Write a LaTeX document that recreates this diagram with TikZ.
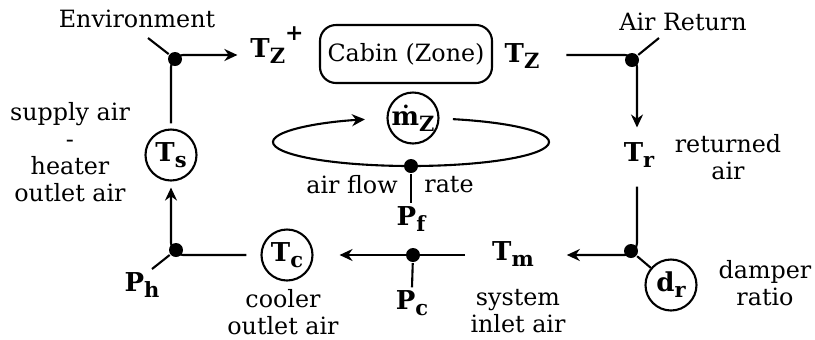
\documentclass[tikz,border=0pt]{standalone}
\usepackage{fontspec}
\setmainfont{DejaVu Serif}
\usetikzlibrary{arrows.meta}
\newcommand{\bsym}[2]{\textbf{\fontsize{13}{14}\selectfont #1\raisebox{-3pt}{\fontsize{10.5}{11}\selectfont #2}}}
\begin{document}
\begin{tikzpicture}[>={Stealth[length=6.5pt,width=6pt]}, x=0.5pt, y=-0.5pt, line width=1.05pt,
    font=\fontsize{11.9}{13.4}\selectfont]
        \tikzset{sigc/.style={draw, circle, minimum size=25.5pt, inner sep=0pt},
                 junc/.style={circle, fill, inner sep=0pt, minimum size=7pt},
                 txt/.style={align=center, inner sep=1pt}}
        \useasboundingbox (0,0) rectangle (815,339);
        % top row
        \node[txt] (env) at (137,19) {Environment};
        \node[junc] (envj) at (175,59) {};
        \coordinate (envin) at (148,38);
        \node[inner sep=1pt] (tzp) at (277,45) {\textbf{\fontsize{13}{14}\selectfont T\raisebox{-3pt}{\fontsize{10.5}{11}\selectfont Z}\raisebox{8.5pt}{\fontsize{11}{11}\selectfont +}}};
        \node[draw, rounded corners=8pt, minimum width=86pt, minimum height=29pt] (cabin) at (406,54) {Cabin (Zone)};
        \node[inner sep=1pt] (tz) at (522,56) {\bsym{T}{Z}};
        \node[junc] (arj) at (632,60) {};
        \coordinate (arin) at (659,38);
        \node[txt] (ar) at (683,22) {Air Return};
        % right side
        \node[inner sep=1pt] (tr) at (639,155) {\bsym{T}{r}};
        \node[txt] (retair) at (728,157) {returned\\air};
        \node[junc] (drj) at (631,251) {};
        \node[sigc] (dr) at (671,285) {\bsym{d}{r}};
        \node[txt] (damp) at (765,283) {damper\\ratio};
        % bottom row
        \node[inner sep=1pt] (tm) at (513,254) {\bsym{T}{m}};
        \node[txt] (sysair) at (518,311) {system\\inlet air};
        \node[junc] (pcj) at (413,255) {};
        \node[inner sep=1pt] (pc) at (412,303) {\bsym{P}{c}};
        \node[sigc] (tc) at (287,255) {\bsym{T}{c}};
        \node[txt] (coolair) at (283,312) {cooler\\outlet air};
        \node[junc] (phj) at (176,250) {};
        \coordinate (phout) at (152,269);
        \node[inner sep=1pt] (ph) at (142,285) {\bsym{P}{h}};
        % left side
        \node[sigc] (ts) at (171,155) {\bsym{T}{s}};
        \node[txt] (supair) at (70,152) {supply air\\-\\heater\\outlet air};
        % air flow loop
        \node[sigc] (mz) at (413,118) {\bsym{ṁ}{Z}};
        \coordinate (loopc) at (411,142);
        \node[junc] (pfj) at (411,166) {};
        \node[inner sep=1pt] (pf) at (411,219) {\bsym{P}{f}};
        \node[txt] (afl) at (352,185) {air flow};
        \node[txt] (rate) at (449,185) {rate};
        % corners of the main loop
        \coordinate (c1) at (171,55);
        \coordinate (c2) at (637,55);
        \coordinate (c3) at (637,255);
        \coordinate (c4) at (171,255);

        \draw[->, rounded corners=6pt, shorten <=2.5pt, shorten >=5pt] (ts.north) -- (c1) -- (tzp.west |- c1);
        \draw (envin) -- (envj);
        \draw[->, rounded corners=6pt, shorten <=12pt, shorten >=6pt] (tz.east |- c2) -- (c2) -- (tr.north -| c2);
        \draw (arin) -- (arj);
        \draw[->, rounded corners=6pt, shorten <=8pt, shorten >=15pt] (tr.south -| c3) -- (c3) -- (tm.east |- c3);
        \draw (drj) -- (dr);
        \draw[->, shorten <=12pt, shorten >=13pt] (tm.west |- c3) -- (tc.east |- c3);
        \draw (pcj) -- (pc.north);
        \draw[->, rounded corners=6pt, shorten <=7pt, shorten >=3pt] (tc.west |- c4) -- (c4) -- (ts.south);
        \draw (phj) -- (phout);
        \draw[->] ([shift={(72.3:69pt and 12pt)}]loopc) arc[start angle=72.3, end angle=-250.5, x radius=69pt, y radius=12pt];
        \draw (pfj) -- (pf.north);
    \end{tikzpicture}
\end{document}
